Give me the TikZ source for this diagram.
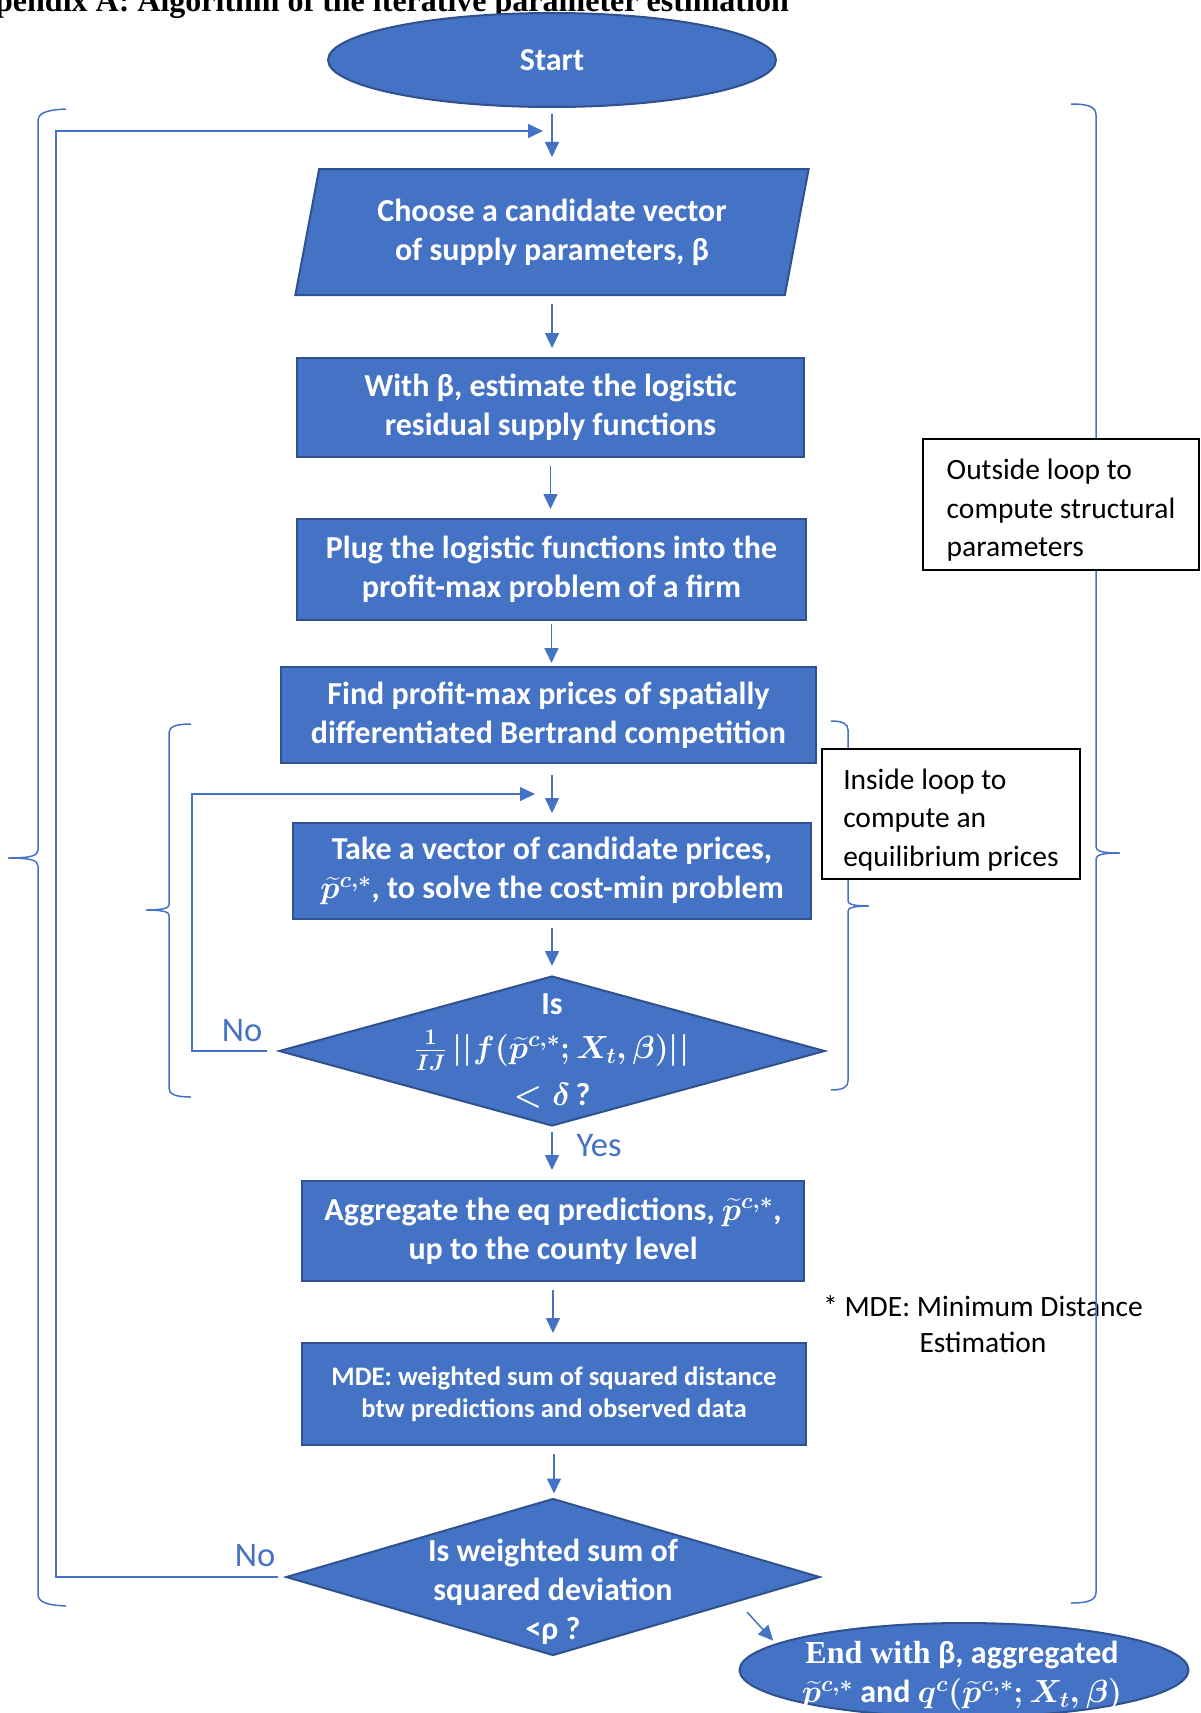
\documentclass[tikz,border=0pt]{standalone}
\usepackage{fix-cm}
\usepackage{amsmath}
\usepackage{fontspec}
\usepackage{bm}
\setmainfont{Carlito}
\newfontfamily\serifbf{Liberation Serif}
\usetikzlibrary{shapes.geometric,arrows.meta}
\definecolor{boxfill}{HTML}{4472C4}
\definecolor{boxline}{HTML}{2F528F}
\definecolor{linkblue}{HTML}{4472C4}

\begin{document}
\begin{tikzpicture}[x=1pt,y=-1pt,
    blocktext/.style={text=white,align=center,font=\fontsize{32}{39}\selectfont\bfseries\boldmath},
    procbox/.style={rectangle,draw=boxline,fill=boxfill,line width=2pt,inner sep=2pt,blocktext},
    inputbox/.style={trapezium,trapezium left angle=75,trapezium right angle=105,trapezium stretches=true,
      draw=boxline,fill=boxfill,line width=2pt,inner sep=0pt,blocktext},
    decision/.style={diamond,draw=boxline,fill=boxfill,line width=2pt,inner sep=0pt},
    terminal/.style={ellipse,draw=boxline,fill=boxfill,line width=2pt,inner sep=0pt},
    flow/.style={draw=linkblue,line width=1.5pt,-{Triangle[length=15pt,width=14pt]},shorten <=8pt,shorten >=9pt},
    loopflow/.style={draw=linkblue,line width=1.5pt,-{Triangle[length=15pt,width=14pt]}},
    curly/.style={draw=linkblue,line width=1.5pt},
    sidenote/.style={draw=black,line width=2pt,fill=white,align=left,inner sep=0pt,font=\fontsize{29.5}{38.5}\selectfont},
    answer/.style={text=linkblue,font=\fontsize{34.5}{40}\selectfont,inner sep=0pt}
  ]
  \useasboundingbox (0,0) rectangle (1201,1713);

  % title, cut by the top edge
  \node[anchor=base east,inner sep=0pt,font=\fontsize{32}{39}\selectfont\serifbf\bfseries] (title) at (789,11)
    {Appendix A: Algorithm of the iterative parameter estimation};

  % footnote (the brace runs over it)
  \node[align=center,inner sep=0pt,font=\fontsize{29.5}{36}\selectfont] (mdenote) at (983,1324)
    {* MDE: Minimum Distance\\Estimation};

  % loop braces
  \draw[curly] (66,109) .. controls (46,110) and (38,113) .. (38,121) -- (38,850)
    .. controls (38,856) and (30,858) .. (8,858) .. controls (30,858) and (38,860) .. (38,866)
    -- (38,1594) .. controls (38,1602) and (46,1605) .. (66,1606);
  \draw[curly] (1071,104) .. controls (1089,104) and (1096,107) .. (1096,115) -- (1096,847)
    .. controls (1096,851) and (1102,853) .. (1120,853) .. controls (1102,853) and (1096,855) .. (1096,859)
    -- (1096,1592) .. controls (1096,1600) and (1089,1603) .. (1071,1603);
  \draw[curly] (191,724) .. controls (175,724) and (169,727) .. (169,733) -- (169,905)
    .. controls (169,908) and (163,910) .. (146,910) .. controls (163,910) and (169,912) .. (169,915)
    -- (169,1088) .. controls (169,1094) and (175,1097) .. (191,1097);
  \draw[curly] (831,721) .. controls (843,721) and (848,724) .. (848,730) -- (848,901)
    .. controls (848,904) and (853,906) .. (869,906) .. controls (853,906) and (848,908) .. (848,911)
    -- (848,1081) .. controls (848,1087) and (843,1090) .. (831,1090);

  \node[sidenote,minimum width=276,minimum height=131] (outnote) at (1061,504.5)
    {\rule{0pt}{32pt}Outside loop to\\compute structural\\parameters};
  \node[sidenote,minimum width=258,minimum height=130] (innote) at (951,814)
    {\rule{0pt}{32pt}Inside loop to\\compute an\\equilibrium prices};

  % flow chart
  \node[terminal,blocktext,minimum width=448,minimum height=94] (start) at (552,60) {Start};
  \node[inputbox,minimum width=514,minimum height=126] (choose) at (552,232)
    {Choose a candidate vector\\of supply parameters, β};
  \node[procbox,minimum width=507,minimum height=99] (estim) at (550.5,407.5)
    {With β, estimate the logistic\\residual supply functions};
  \node[procbox,minimum width=509,minimum height=101] (plug) at (551.5,569.5)
    {Plug the logistic functions into the\\profit-max problem of a firm};
  \node[procbox,minimum width=535,minimum height=96] (findp) at (548.5,715)
    {Find profit-max prices of spatially\\differentiated Bertrand competition};
  \node[procbox,minimum width=518,minimum height=96] (takep) at (552,871)
    {Take a vector of candidate prices,\\$\bm{\widetilde{p}^{c,*}}$, to solve the cost-min problem};
  \node[decision,minimum width=546,minimum height=150] (dec1) at (552,1051) {};
  \node[blocktext,inner sep=0pt] (dec1txt) at (dec1)
    {Is\\[5pt]$\bm{\tfrac{1}{IJ}}\left|\left|\bm{f(\widetilde{p}^{c,*};X_t,\beta)}\right|\right|$\\[8pt]$\bm{<\delta}$\,?};
  \node[procbox,minimum width=502,minimum height=100] (aggr) at (553,1231)
    {Aggregate the eq predictions, $\bm{\widetilde{p}^{c,*}}$,\\up to the county level};
  \node[procbox,minimum width=504,minimum height=102,font=\fontsize{26.7}{32.5}\selectfont\bfseries] (mde) at (554,1394)
    {MDE: weighted sum of squared distance\\btw predictions and observed data};
  \node[decision,minimum width=534,minimum height=157] (dec2) at (553,1577) {};
  \node[blocktext,inner sep=0pt] (dec2txt) at (553,1592)
    {Is weighted sum of\\squared deviation\\<ρ ?};
  \node[terminal,minimum width=449,minimum height=94] (finish) at (964,1670) {};
  \node[blocktext,inner sep=0pt] (finishtxt) at (962,1676)
    {{\serifbf End with} β, aggregated\\$\bm{\widetilde{p}^{c,*}}$ and $\bm{q^{c}(\widetilde{p}^{c,*};X_t,\beta)}$};

  \coordinate (outerin) at (543,131);
  \coordinate (innerin) at (535,794);

  \draw[flow,shorten <=6pt,shorten >=11pt] (start.south) -- (start.south |- choose.north);
  \draw[flow] (choose.south) -- (choose.south |- estim.north);
  \draw[flow] (estim.south) -- (estim.south |- plug.north);
  \draw[flow,shorten <=3pt,shorten >=3pt] (plug.south) -- (plug.south |- findp.north);
  \draw[flow,shorten <=11pt] (findp.south -| takep.north) -- (takep.north);
  \draw[flow] (takep.south) -- (dec1.north);
  \draw[flow,shorten <=5pt,shorten >=10pt] (dec1.south) -- (aggr.north -| dec1.south);
  \draw[flow] (aggr.south) -- (aggr.south |- mde.north);
  \draw[flow,shorten >=4pt] (mde.south) -- (mde.south |- dec2.north);
  \draw[flow,shorten <=0pt,shorten >=4pt] ([shift={(-74,35)}]dec2.east) -- (finish.172);

  % the two loops back
  \draw[loopflow] ([xshift=-11pt]dec1.west) -- ++(-75,0) |- (innerin);
  \draw[loopflow] ([xshift=-7pt]dec2.west) -- ++(-222,0) |- (outerin);

  \node[answer,anchor=base] (noin) at (242,1041) {No};
  \node[answer,anchor=base] (noout) at (255,1566) {No};
  \node[answer,anchor=base] (yes) at (599,1156) {Yes};
\end{tikzpicture}
\end{document}
